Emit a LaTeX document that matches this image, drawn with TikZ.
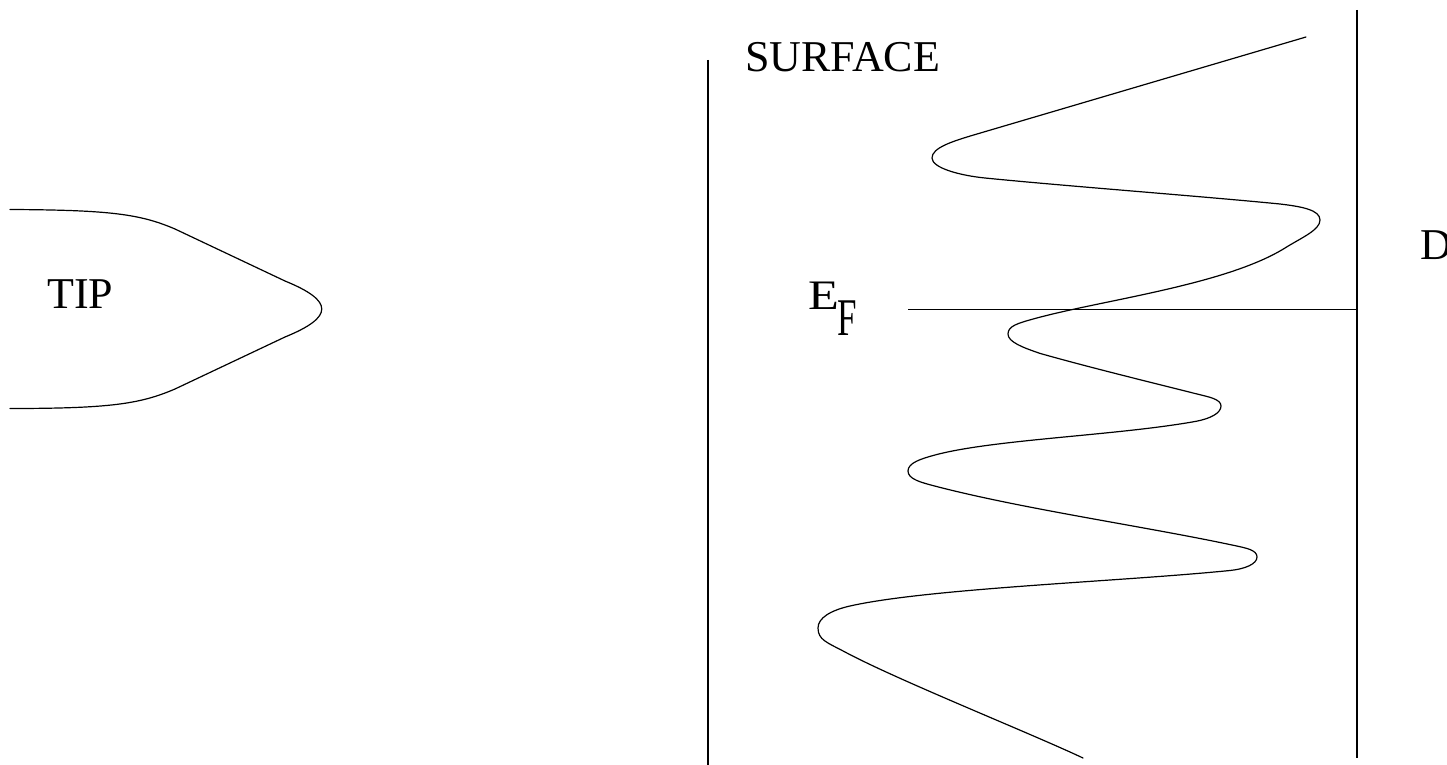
\documentclass[tikz,border=0pt]{standalone}
\usepackage{fontspec}
\setmainfont{Liberation Serif}
\usepackage{graphicx}
\begin{document}
\begin{tikzpicture}[x=0.5pt,y=-0.5pt,
  curve/.style={line width=0.6pt, line join=round, line cap=round},
  rule/.style={line width=0.65pt},
  lbl/.style={inner sep=0pt, anchor=base west, font=\fontsize{22}{26}\selectfont}]
\useasboundingbox (0,0) rectangle (1447,765);
% vertical lines
\draw[rule] (708,60) -- (708,765);
\draw[rule] (1357,10) -- (1357,758);
% Fermi level
\coordinate (ef0) at (908,309.5);
\coordinate (ef1) at (1357,309.5);
\draw[rule] (ef0) -- (ef1);
% labels
\node[lbl] (surface) at (745,72) {SURFACE};
\node[lbl] (tip) at (47,308) {TIP};
\node[lbl] (d) at (1420,259) {D};
\node[lbl, font=\fontsize{21}{24}\selectfont] (e) at (808,309) {\scalebox{1.2}[1]{E}};
\node[lbl, font=\fontsize{26.5}{30}\selectfont] (f) at (837,335.5) {\scalebox{0.66}[1]{F}};
% tip outline
\draw[curve] (10,209.5) .. controls (110,210) and (140,214) .. (175,229)
  -- (285,281) .. controls (334,301) and (334,317) .. (285,337)
  -- (175,389) .. controls (140,404) and (110,408.5) .. (10,408.5);
% density of states wave
\coordinate (p0) at (1306,37);
\coordinate (t1) at (932,158);
\coordinate (t2) at (1320,220);
\coordinate (t3) at (1008,334);
\coordinate (t4) at (1221,406);
\coordinate (t5) at (908,471);
\coordinate (t6) at (1257,557);
\coordinate (t7) at (818,628);
\coordinate (pe) at (1083,758);
\draw[curve] (p0) -- (975,134.6)
  .. controls (951,141.7) and (932,148) .. (t1)
  .. controls (932,168) and (960,175.5) .. (985,178)
  .. controls (1065,186) and (1202,196.3) .. (1280,204)
  .. controls (1302,206.6) and (1320,210) .. (t2)
  .. controls (1320,230) and (1302,237.4) .. (1285,248)
  .. controls (1225.5,285) and (1102.5,300) .. (1035,318.5)
  .. controls (1017.6,323.3) and (1008,326) .. (t3)
  .. controls (1008,342) and (1022.8,347.5) .. (1040,353.4)
  .. controls (1088,367) and (1147,381.4) .. (1195,393.5)
  .. controls (1208.6,396.9) and (1221,399) .. (t4)
  .. controls (1221,413) and (1210.7,418.7) .. (1195,421.5)
  .. controls (1116,435.6) and (993,439.4) .. (935,455)
  .. controls (920.5,458.9) and (908,463) .. (t5)
  .. controls (908,479) and (920.5,482.3) .. (935,486.1)
  .. controls (1022,508.8) and (1144,526.3) .. (1232,545)
  .. controls (1246.7,548.1) and (1257,550) .. (t6)
  .. controls (1257,564) and (1245,569) .. (1230,570.5)
  .. controls (1120.6,581.5) and (928,588.4) .. (850,606)
  .. controls (830.5,610.4) and (818,618) .. (t7)
  .. controls (818,640) and (827.4,642.6) .. (845,652)
  .. controls (897.8,680.2) and (1030,733) .. (pe);
\end{tikzpicture}
\end{document}
